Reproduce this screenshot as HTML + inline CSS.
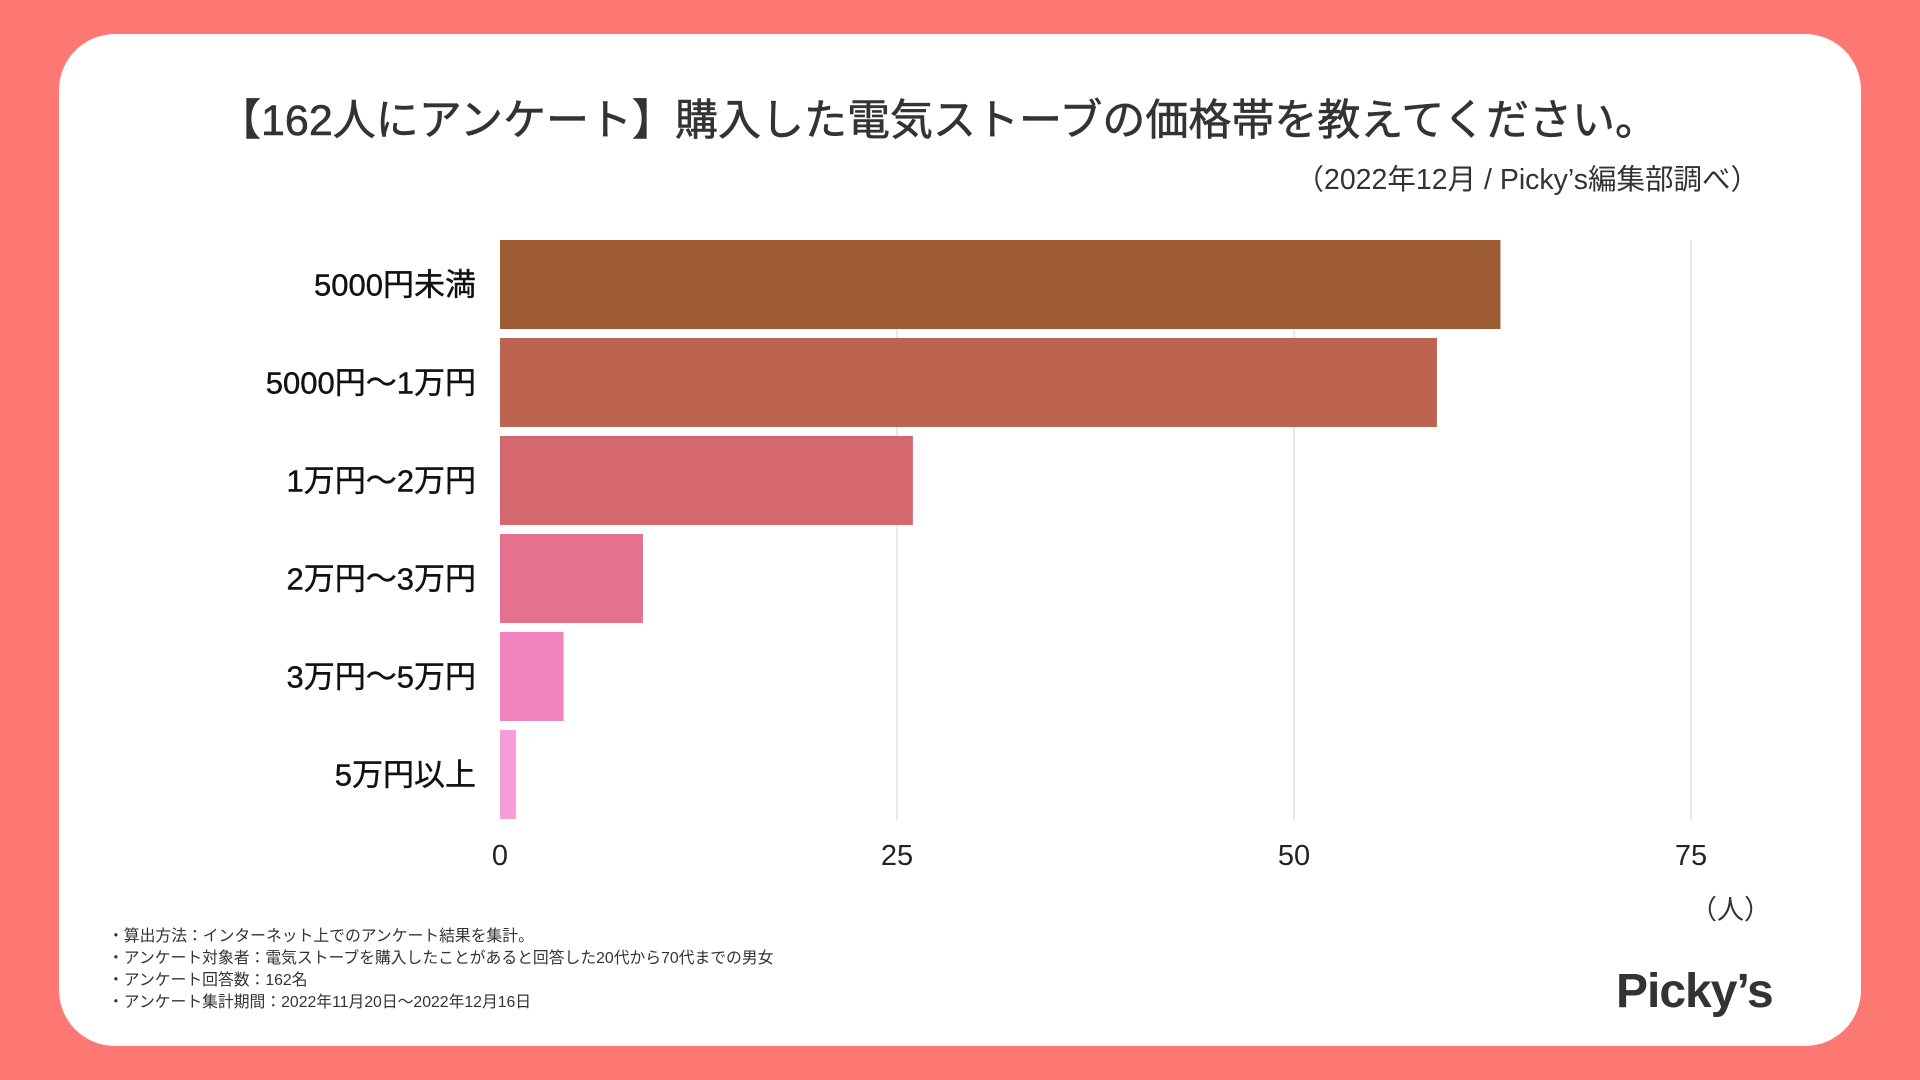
<!DOCTYPE html>
<html><head><meta charset="utf-8">
<style>
body{margin:0;width:1920px;height:1080px;background:#fe7873;overflow:hidden;font-family:"Liberation Sans","Noto Sans CJK JP",sans-serif;color:#333;}
#card{position:absolute;left:59px;top:34px;width:1802px;height:1012px;background:#fff;border-radius:56px;}
.abs{position:absolute;white-space:nowrap;}
</style></head><body>
<div id="card"></div>
<div class="abs" style="left:-22px;width:1920px;text-align:center;top:86px;font-size:43px;font-weight:normal;color:#333;-webkit-text-stroke:0.6px #333;">【162人にアンケート】購入した電気ストーブの価格帯を教えてください。</div>
<div class="abs" style="right:161px;top:157px;font-size:28.5px;color:#333;">（2022年12月 / Picky’s編集部調べ）</div>
<svg id="chart" class="abs" style="left:0;top:0" width="1920" height="1080"></svg>
<div class="abs" style="left:1690px;top:888px;font-size:27px;">（人）</div>
<div class="abs" style="left:108px;top:926px;font-size:15.8px;line-height:22px;color:#333;">・算出方法：インターネット上でのアンケート結果を集計。<br>・アンケート対象者：電気ストーブを購入したことがあると回答した20代から70代までの男女<br>・アンケート回答数：162名<br>・アンケート集計期間：2022年11月20日〜2022年12月16日</div>
<div class="abs" style="left:1616px;top:964px;font-size:48px;font-weight:bold;color:#333;letter-spacing:-1px;">Picky’s</div>
<script>
const categories=["5000円未満","5000円〜1万円","1万円〜2万円","2万円〜3万円","3万円〜5万円","5万円以上"];
const values=[63,59,26,9,4,1];
const colors=["#9c5b32","#bd6451","#d5686f","#e6718f","#f383bd","#f59ddb"];
const ticks=[0,25,50,75];
const NS="http://www.w3.org/2000/svg";
const svg=document.getElementById('chart');
const x0=500,x75=1691,top0=240,pitch=98,barH=89;
function xs(v){return x0+(x75-x0)*v/75;}
function mk(t,a){const e=document.createElementNS(NS,t);for(const k in a)e.setAttribute(k,a[k]);svg.appendChild(e);return e;}
ticks.forEach(t=>{
  if(t>0){const l=mk('line',{x1:xs(t),x2:xs(t),y1:top0,y2:top0+pitch*6-8,stroke:'#e2e2e2','stroke-width':1.5});
  
  }
  const tx=mk('text',{x:xs(t),y:865,'text-anchor':'middle','font-size':29,fill:'#222','font-family':'Liberation Sans, sans-serif'});
  tx.textContent=t;
  
  
});
categories.forEach((c,i)=>{
  const y=top0+i*pitch;
  const r=mk('rect',{x:x0,y:y,width:xs(values[i])-x0,height:barH,fill:colors[i]});
  
  
  const t=mk('text',{x:476,y:y+barH/2+11,'text-anchor':'end','font-size':31,fill:'#111','stroke':'#111','stroke-width':0.4,'font-family':'Liberation Sans, Noto Sans CJK JP, sans-serif'});
  t.textContent=c;
  
  
});
</script>
</body></html>
